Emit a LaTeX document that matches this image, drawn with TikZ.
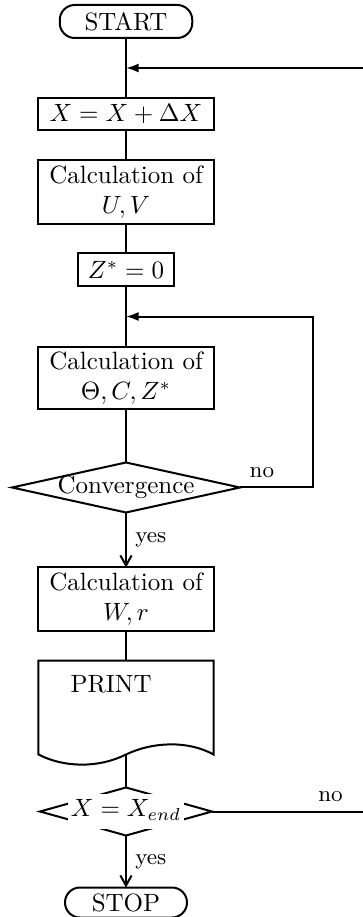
\documentclass[tikz,border=0pt]{standalone}
\usepackage{amsmath}
\usepackage{tikz}
\usetikzlibrary{arrows.meta, positioning, calc, backgrounds}
\tikzset{
    startstop/.style={rectangle, rounded corners=6pt, minimum width=53pt, minimum height=13.2pt, inner sep=1pt, outer sep=0pt, text centered, draw=black, line width=0.8pt},
    process/.style  ={rectangle, minimum width=70pt, minimum height=12.8pt, inner sep=2pt, outer sep=0pt, text centered, align=center, draw=black, line width=0.8pt},
    printout/.style ={rectangle, minimum width=70pt, text width=44.4pt, align=left, inner xsep=12.8pt, inner ysep=2pt, outer sep=0pt, text height=10.8pt, text depth=22.8pt},
    decision/.style ={rectangle, minimum width=91.2pt, minimum height=20pt, inner sep=0pt, outer sep=0pt, text centered},
    outline/.style  ={line width=0.8pt},
    flowline/.style ={line width=0.8pt},
    flowarrow/.style={-{Straight Barb[length=4pt, width=4.5pt]}, line width=0.8pt},
    backarrow/.style={-{Latex[length=5pt, width=3.6pt]}, line width=0.8pt},
}
\newcommand{\gapbox}[1]{{\setlength{\fboxsep}{1pt}\colorbox{white}{\rule[-4pt]{0pt}{12pt}#1}}}
\begin{document}
\begin{tikzpicture}[x=0.4pt, y=-0.4pt, font=\normalsize]
    \useasboundingbox (0,0) rectangle (362,917);
    \node[startstop] (start) at (126,21.5) {START};
    \node[process, below=24pt of start] (xbox) {$X = X + \Delta X$};
    \node[process, minimum height=25.6pt, below=12pt of xbox] (uv) {Calculation of\\$U, V$};
    \node[process, minimum width=38.4pt, minimum height=13.2pt, below=11.6pt of uv] (zstar) {$Z^{*} = 0$};
    \node[process, minimum height=24pt, below=24.4pt of zstar] (theta) {Calculation of\\$\Theta, C, Z^{*}$};
    \node[decision, below=21.2pt of theta] (conv) {Convergence};
    \node[process, minimum height=25.2pt, below=22pt of conv] (wr) {Calculation of\\$W, r$};
    \node[printout, below=12pt of wr] (print) {PRINT};
    \node[decision, minimum width=68.8pt, minimum height=19.2pt, below=13.2pt of print] (xend) {\gapbox{$X = X_{end}$}};
    \node[startstop, minimum width=48.8pt, minimum height=12pt, below=20.8pt of xend] (stop) {STOP};
    \coordinate (ret1) at ($(start.south)!0.5!(xbox.north)$);
    \coordinate (ret2) at ($(zstar.south)!0.5!(theta.north)$);
    % diamonds and print sheet
    \begin{scope}[on background layer]
        \draw[outline] (conv.north) -- (conv.east) -- (conv.south) -- (conv.west) -- cycle;
        \draw[outline] (xend.north) -- (xend.east) -- (xend.south) -- (xend.west) -- cycle;
    \end{scope}
    \draw[outline] (print.south west) -- (print.north west) -- (print.north east) -- (print.south east)
        .. controls +(-25,-14) and +(27,-13) .. (print.south)
        .. controls +(-28,14) and +(25,13) .. (print.south west) -- cycle;
    % connectors
    \draw[flowline] (start) -- (xbox);
    \draw[flowline] (xbox) -- (uv);
    \draw[flowline] (uv) -- (zstar);
    \draw[flowline] (zstar) -- (theta);
    \draw[flowline] (theta) -- (conv);
    \draw[flowarrow] (conv) -- node[right, font=\small]{yes} (wr);
    \draw[flowline] (wr) -- (print);
    \draw[flowline] (print.south) -- (xend);
    \draw[flowarrow] (xend) -- node[right, font=\small]{yes} (stop);
    \draw[backarrow] (conv.east) -- node[above, pos=0.3, font=\small]{no} ++(73,0) |- (ret2);
    \draw[backarrow] (xend.east) -- node[above, pos=0.77, font=\small]{no} ++(154,0) |- (ret1);
\end{tikzpicture}
\end{document}
